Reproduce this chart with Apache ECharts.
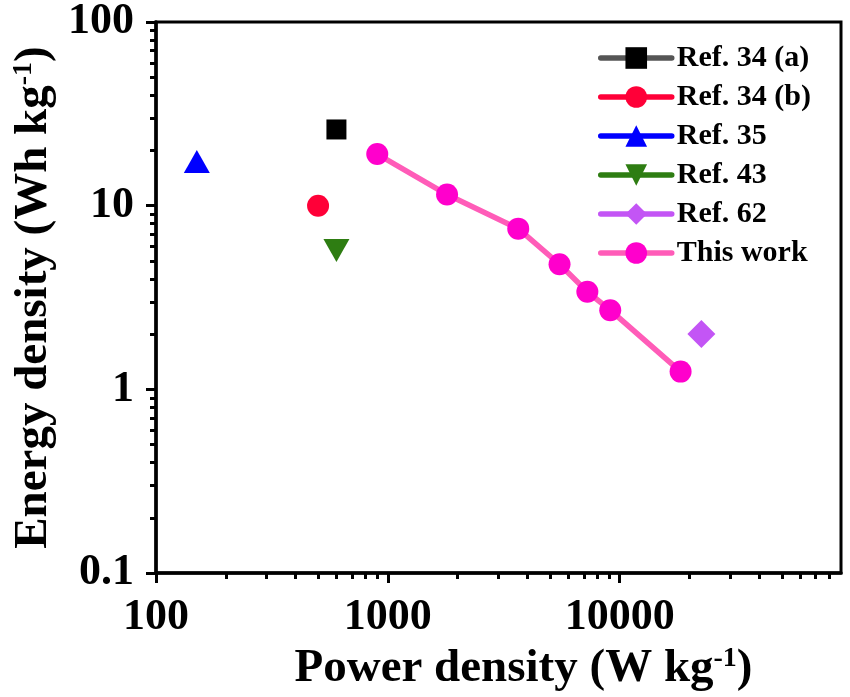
<!DOCTYPE html>
<html>
<head>
<meta charset="utf-8">
<script src="https://cdn.jsdelivr.net/npm/echarts@6/dist/echarts.min.js"></script>
<style>
html, body { margin: 0; padding: 0; background: #fff; }
#chartmain { width: 850px; height: 697px; }
</style>
</head>
<body>
<div id="chartmain"></div>
<script>
// reference points (one point each)
var refNames = ['Ref. 34 (a)', 'Ref. 34 (b)', 'Ref. 35', 'Ref. 43', 'Ref. 62'];
var refPower = [600, 500, 150, 600, 22500];
var refEnergy = [26, 10, 17.4, 5.7, 2.0];

// this work
var workName = 'This work';
var workPower = [900, 1800, 3650, 5500, 7250, 9100, 18300];
var workEnergy = [19.1, 11.5, 7.5, 4.8, 3.4, 2.7, 1.25];

// axis ticks
var xMajor = [100, 1000, 10000];
var xMinor = [200, 300, 400, 500, 600, 700, 800, 900,
	2000, 3000, 4000, 5000, 6000, 7000, 8000, 9000,
	20000, 30000, 40000, 50000, 60000, 70000, 80000];
var yMajor = [0.1, 1, 10, 100];
var yMinor = [0.2, 0.3, 0.4, 0.5, 0.6, 0.7, 0.8, 0.9,
	2, 3, 4, 5, 6, 7, 8, 9,
	20, 30, 40, 50, 60, 70, 80, 90];

var font = 'Liberation Serif';

function pts(xs, ys) {
	return xs.map(function(x, i) { return [x, ys[i]]; });
}

function refSeries(i, symbol, size, color, lineColor) {
	return {
		name : refNames[i],
		type : 'line',
		xAxisIndex : 0,
		yAxisIndex : 0,
		data : pts([refPower[i]], [refEnergy[i]]),
		symbol : symbol,
		symbolSize : size,
		itemStyle : { color : color },
		lineStyle : { color : lineColor, width : 5.5, cap : 'round' }
	};
}

var option = {
	animation : false,
	backgroundColor : '#fff',
	grid : {
		left : 156,
		right : 9,
		top : 20,
		bottom : 123,
		show : true,
		borderColor : '#000',
		borderWidth : 3
	},
	legend : {
		data : refNames.concat([workName]),
		orient : 'vertical',
		left : 598,
		top : 43,
		padding : 0,
		itemWidth : 71,
		itemHeight : 27,
		itemGap : 9,
		lineStyle : { width : 5.5, cap : 'round' },
		textStyle : {
			fontFamily : font,
			fontWeight : 'bold',
			fontSize : 30,
			color : '#000'
		}
	},
	xAxis : [ {
		type : 'log',
		logBase : 10,
		min : 100,
		max : 90000,
		position : 'bottom',
		name : 'Power density (W kg{sup|-1})',
		nameLocation : 'middle',
		nameGap : 68,
		nameTextStyle : {
			fontFamily : font,
			fontWeight : 'bold',
			fontSize : 47,
			color : '#000',
			padding : [0, 0, 0, 50],
			rich : {
				sup : { fontFamily : font, fontWeight : 'bold', fontSize : 28, color : '#000', verticalAlign : 'top' }
			}
		},
		axisLine : { show : true, lineStyle : { color : '#000', width : 3.5 } },
		axisTick : { show : true, length : 10, customValues : xMajor, lineStyle : { color : '#000', width : 3 } },
		axisLabel : {
			customValues : xMajor,
			margin : 23,
			fontFamily : font,
			fontWeight : 'bold',
			fontSize : 44,
			color : '#000',
			formatter : function(v) { return String(v); }
		},
		splitLine : { show : false }
	}, {
		type : 'log',
		logBase : 10,
		min : 100,
		max : 90000,
		position : 'bottom',
		axisLine : { show : false },
		axisTick : { show : true, length : 6, customValues : xMinor, lineStyle : { color : '#000', width : 3 } },
		axisLabel : { show : false },
		splitLine : { show : false }
	} ],
	yAxis : [ {
		type : 'log',
		logBase : 10,
		min : 0.1,
		max : 100,
		position : 'left',
		name : 'Energy density (Wh kg{sup|-1})',
		nameLocation : 'middle',
		nameGap : 98,
		nameTextStyle : {
			fontFamily : font,
			fontWeight : 'bold',
			fontSize : 47,
			color : '#000',
			rich : {
				sup : { fontFamily : font, fontWeight : 'bold', fontSize : 28, color : '#000', verticalAlign : 'top' }
			}
		},
		axisLine : { show : true, lineStyle : { color : '#000', width : 3.5 } },
		axisTick : { show : true, length : 10, customValues : yMajor, lineStyle : { color : '#000', width : 3 } },
		axisLabel : {
			customValues : yMajor,
			margin : 22,
			fontFamily : font,
			fontWeight : 'bold',
			fontSize : 44,
			color : '#000',
			formatter : function(v) { return String(v); }
		},
		splitLine : { show : false }
	}, {
		type : 'log',
		logBase : 10,
		min : 0.1,
		max : 100,
		position : 'left',
		axisLine : { show : false },
		axisTick : { show : true, length : 6, customValues : yMinor, lineStyle : { color : '#000', width : 3 } },
		axisLabel : { show : false },
		splitLine : { show : false }
	} ],
	series : [
		refSeries(0, 'rect', 20, '#000000', '#555555'),
		refSeries(1, 'circle', 22, '#ff0038', '#ff0038'),
		refSeries(2, 'triangle', [26, 23], '#0000ff', '#0000ff'),
		refSeries(3, 'path://M0,0 L10,0 L5,9 Z', [26, 23], '#2e7d12', '#2e7d12'),
		refSeries(4, 'diamond', 28, '#c355f5', '#c355f5'),
		{
			name : workName,
			type : 'line',
			xAxisIndex : 0,
			yAxisIndex : 0,
			data : pts(workPower, workEnergy),
			symbol : 'circle',
			symbolSize : 22,
			itemStyle : { color : '#ff00cc' },
			lineStyle : { color : '#ff5cb8', width : 5.5, cap : 'round' }
		}
	]
};

var myChart = echarts.init(document.getElementById('chartmain'));
myChart.setOption(option);
</script>
</body>
</html>
